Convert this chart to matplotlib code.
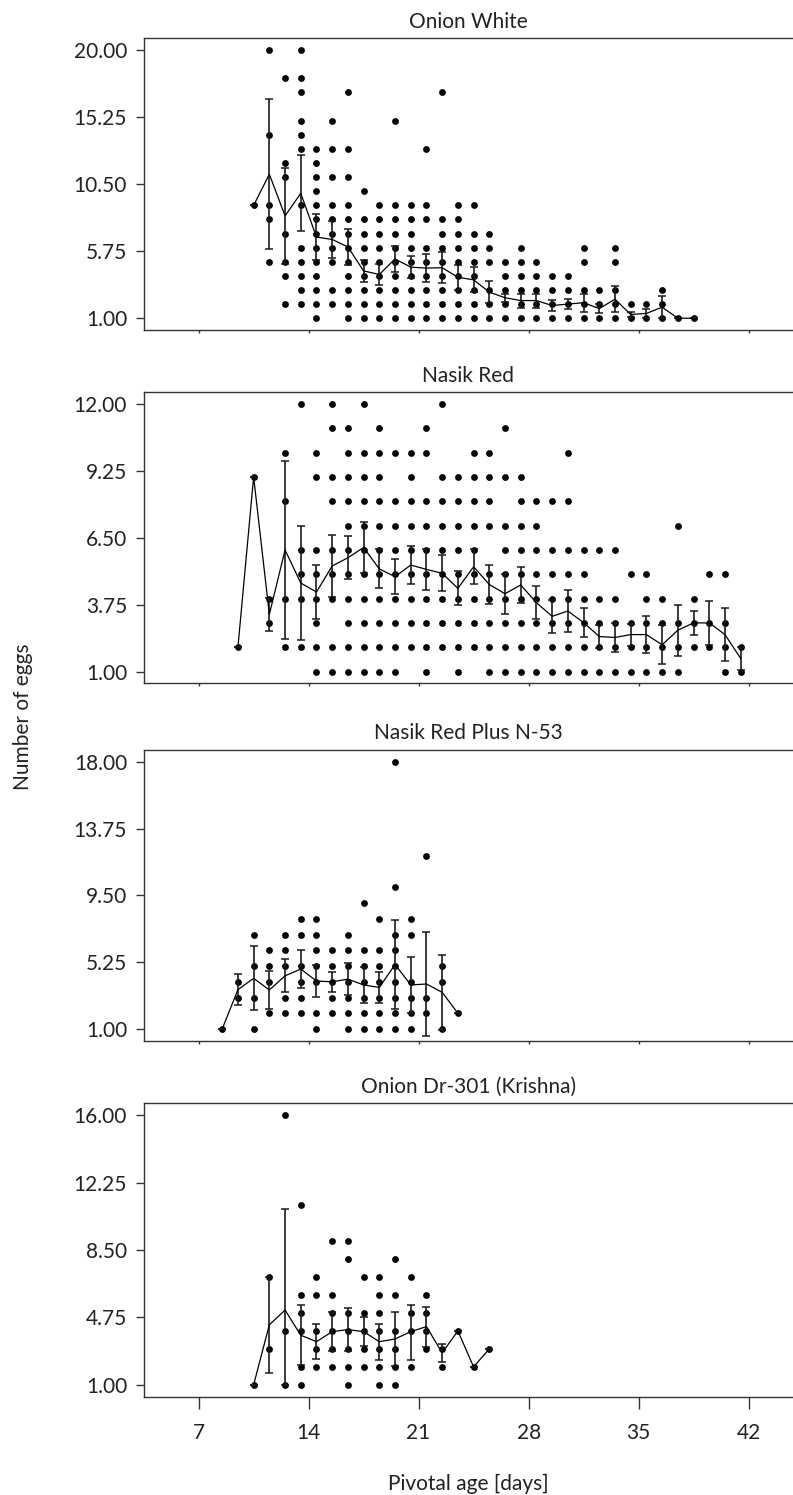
import matplotlib
matplotlib.use("Agg")
import matplotlib.pyplot as plt

plt.rcParams['font.family'] = ['Lato', 'DejaVu Sans']

# ---------------- data ----------------
titles = ["Onion White", "Nasik Red", "Nasik Red Plus N-53", "Onion Dr-301 (Krishna)"]
yticks = [[1.00, 5.75, 10.50, 15.25, 20.00],
          [1.00, 3.75, 6.50, 9.25, 12.00],
          [1.00, 5.25, 9.50, 13.75, 18.00],
          [1.00, 4.75, 8.50, 12.25, 16.00]]
xticks = [7, 14, 21, 28, 35, 42]

# individual observations: egg count -> pivotal ages (days) where it occurs
p1_rows = {
    20: [11.5, 13.5],
    18: [12.5, 13.5],
    17: [13.5, 16.5, 22.5],
    15: [13.5, 15.5, 19.5],
    14: [11.5, 13.5],
    13: [13.5, 14.5, 15.5, 16.5, 21.5],
    12: [12.5, 14.5],
    11: [12.5, 14.5, 15.5, 16.5],
    10: [14.5, 17.5],
    9: [10.5, 11.5, 13.5, 14.5, 15.5, 16.5, 18.5, 19.5, 20.5, 21.5, 23.5, 24.5],
    8: [11.5, 14.5, 15.5, 16.5, 17.5, 18.5, 19.5, 20.5, 21.5, 22.5, 23.5],
    7: [12.5, 14.5, 15.5, 16.5, 17.5, 18.5, 19.5, 20.5, 22.5, 23.5, 24.5, 25.5],
    6: [13.5, 14.5, 15.5, 16.5, 17.5, 18.5, 19.5, 20.5, 21.5, 22.5, 23.5, 24.5,
        25.5, 27.5, 31.5, 33.5],
    5: [11.5, 12.5, 13.5, 14.5, 15.5, 16.5, 17.5, 18.5, 19.5, 20.5, 21.5, 22.5,
        23.5, 24.5, 25.5, 26.5, 27.5, 28.5, 31.5, 33.5],
    4: [12.5, 13.5, 14.5, 16.5, 17.5, 18.5, 19.5, 20.5, 21.5, 22.5, 23.5, 24.5,
        26.5, 27.5, 28.5, 29.5, 30.5],
    3: [13.5, 14.5, 15.5, 16.5, 17.5, 18.5, 19.5, 20.5, 21.5, 22.5, 23.5, 24.5,
        25.5, 26.5, 27.5, 28.5, 29.5, 30.5, 31.5, 32.5, 33.5, 36.5],
    2: [12.5, 13.5, 14.5, 15.5, 16.5, 17.5, 18.5, 19.5, 20.5, 21.5, 22.5, 23.5,
        24.5, 25.5, 26.5, 27.5, 28.5, 29.5, 30.5, 31.5, 32.5, 33.5, 34.5, 35.5, 36.5],
    1: [14.5, 16.5, 17.5, 18.5, 19.5, 20.5, 21.5, 22.5, 23.5, 24.5, 25.5, 26.5,
        27.5, 28.5, 29.5, 30.5, 31.5, 32.5, 33.5, 34.5, 35.5, 36.5, 37.5, 38.5],
}
p2_rows = {
    12: [13.5, 15.5, 17.5, 22.5],
    11: [15.5, 16.5, 18.5, 21.5, 26.5],
    10: [12.5, 14.5, 16.5, 17.5, 18.5, 19.5, 20.5, 21.5, 24.5, 25.5, 30.5],
    9: [10.5, 14.5, 15.5, 16.5, 17.5, 18.5, 20.5, 22.5, 23.5, 24.5, 25.5, 26.5, 27.5],
    8: [12.5, 15.5, 16.5, 17.5, 18.5, 19.5, 20.5, 21.5, 22.5, 23.5, 24.5, 25.5,
        27.5, 28.5, 29.5, 30.5],
    7: [16.5, 17.5, 18.5, 19.5, 20.5, 21.5, 22.5, 23.5, 24.5, 25.5, 26.5, 27.5,
        28.5, 37.5],
    6: [13.5, 14.5, 15.5, 16.5, 17.5, 18.5, 19.5, 20.5, 21.5, 22.5, 23.5, 24.5,
        26.5, 27.5, 28.5, 29.5, 30.5, 31.5, 32.5, 33.5],
    5: [13.5, 14.5, 15.5, 16.5, 17.5, 18.5, 19.5, 20.5, 21.5, 22.5, 23.5, 24.5,
        25.5, 26.5, 27.5, 28.5, 29.5, 30.5, 31.5, 34.5, 35.5, 39.5, 40.5],
    4: [11.5, 12.5, 13.5, 14.5, 15.5, 16.5, 17.5, 18.5, 19.5, 20.5, 21.5, 22.5,
        23.5, 24.5, 25.5, 26.5, 27.5, 28.5, 29.5, 30.5, 31.5, 32.5, 33.5, 35.5,
        36.5, 38.5],
    3: [11.5, 14.5, 16.5, 17.5, 18.5, 19.5, 20.5, 21.5, 22.5, 23.5, 24.5, 25.5,
        26.5, 27.5, 28.5, 29.5, 30.5, 31.5, 32.5, 33.5, 34.5, 35.5, 36.5, 37.5,
        38.5, 39.5, 40.5],
    2: [9.5, 12.5, 13.5, 14.5, 15.5, 16.5, 17.5, 18.5, 19.5, 20.5, 21.5, 22.5,
        23.5, 24.5, 25.5, 26.5, 27.5, 28.5, 29.5, 30.5, 31.5, 32.5, 33.5, 34.5,
        35.5, 36.5, 37.5, 38.5, 39.5, 40.5, 41.5],
    1: [14.5, 15.5, 16.5, 17.5, 18.5, 19.5, 21.5, 23.5, 25.5, 26.5, 27.5, 28.5,
        29.5, 30.5, 31.5, 32.5, 33.5, 34.5, 35.5, 36.5, 37.5, 40.5, 41.5],
}
p3_rows = {
    18: [19.5],
    12: [21.5],
    10: [19.5],
    9: [17.5],
    8: [13.5, 14.5, 18.5, 20.5],
    7: [10.5, 12.5, 13.5, 14.5, 16.5, 19.5, 20.5],
    6: [11.5, 12.5, 14.5, 15.5, 16.5, 17.5, 18.5, 19.5],
    5: [10.5, 11.5, 12.5, 13.5, 14.5, 15.5, 16.5, 17.5, 18.5, 19.5, 22.5],
    4: [9.5, 11.5, 13.5, 14.5, 15.5, 16.5, 17.5, 18.5, 19.5, 20.5, 22.5],
    3: [9.5, 10.5, 12.5, 13.5, 15.5, 16.5, 17.5, 18.5, 19.5, 20.5, 21.5],
    2: [11.5, 12.5, 13.5, 14.5, 15.5, 16.5, 17.5, 18.5, 19.5, 20.5, 21.5, 23.5],
    1: [8.5, 10.5, 14.5, 16.5, 17.5, 18.5, 19.5, 20.5, 22.5],
}
p4_rows = {
    16: [12.5],
    11: [13.5],
    9: [15.5, 16.5],
    8: [16.5, 19.5],
    7: [11.5, 14.5, 17.5, 18.5, 20.5],
    6: [13.5, 14.5, 15.5, 18.5, 19.5, 21.5],
    5: [13.5, 15.5, 16.5, 17.5, 18.5, 20.5, 21.5],
    4: [12.5, 13.5, 14.5, 15.5, 16.5, 17.5, 18.5, 19.5, 20.5, 21.5, 23.5],
    3: [11.5, 14.5, 15.5, 16.5, 17.5, 18.5, 19.5, 21.5, 22.5, 25.5],
    2: [13.5, 14.5, 15.5, 16.5, 17.5, 18.5, 19.5, 20.5, 22.5, 24.5],
    1: [10.5, 12.5, 13.5, 16.5, 18.5, 19.5],
}

# means and error bars (lower / upper bounds)
p1_age = [10.5, 11.5, 12.5, 13.5, 14.5, 15.5, 16.5, 17.5, 18.5, 19.5, 20.5, 21.5,
          22.5, 23.5, 24.5, 25.5, 26.5, 27.5, 28.5, 29.5, 30.5, 31.5, 32.5, 33.5,
          34.5, 35.5, 36.5, 37.5, 38.5]
p1_mean = [9, 11.2, 8.25, 9.85, 6.75, 6.58, 6.05, 4.35, 4.1, 5.2, 4.62, 4.55,
           4.58, 3.9, 3.72, 2.85, 2.45, 2.25, 2.25, 1.9, 2.0, 2.1, 1.68, 2.35,
           1.26, 1.34, 1.78, 1, 1]
p1_err = [0, 5.3, 3.4, 2.7, 1.6, 1.28, 1.28, 0.8, 0.73, 0.93, 0.8, 1.0,
          1.1, 0.9, 0.88, 0.8, 0.3, 0.5, 0.5, 0.42, 0.35, 0.65, 0.33, 0.9,
          0.21, 0.34, 0.79, 0, 0]

p2_age = [9.5, 10.5, 11.5, 12.5, 13.5, 14.5, 15.5, 16.5, 17.5, 18.5, 19.5, 20.5,
          21.5, 22.5, 23.5, 24.5, 25.5, 26.5, 27.5, 28.5, 29.5, 30.5, 31.5, 32.5,
          33.5, 34.5, 35.5, 36.5, 37.5, 38.5, 39.5, 40.5, 41.5]
p2_mean = [2, 9, 3.35, 6.0, 4.64, 4.27, 5.34, 5.68, 6.1, 5.22, 4.9, 5.38,
           5.2, 5.04, 4.42, 5.31, 4.58, 4.2, 4.56, 3.83, 3.27, 3.49, 3.01, 2.44,
           2.4, 2.52, 2.52, 2.1, 2.7, 3.0, 3.0, 2.52, 1.54]
p2_err = [0, 0, 0.67, 3.65, 2.35, 1.1, 1.27, 0.88, 1.05, 0.8, 0.72, 0.78,
          0.85, 0.74, 0.7, 0.72, 0.8, 0.82, 0.73, 0.67, 0.69, 0.87, 0.6, 0.48,
          0.6, 0.45, 0.77, 0.8, 1.05, 0.5, 0.9, 1.1, 0.46]

p3_age = [8.5, 9.5, 10.5, 11.5, 12.5, 13.5, 14.5, 15.5, 16.5, 17.5, 18.5, 19.5,
          20.5, 21.5, 22.5, 23.5]
p3_mean = [1, 3.5, 4.22, 3.48, 4.38, 4.81, 4.05, 4.0, 4.17, 3.8, 3.64, 5.1,
           3.8, 3.86, 3.33, 2]
p3_err = [0, 0.98, 2.04, 1.2, 1.04, 1.2, 1.03, 0.65, 1.02, 1.14, 1.0, 2.8,
          1.77, 3.28, 2.38, 0]

p4_age = [10.5, 11.5, 12.5, 13.5, 14.5, 15.5, 16.5, 17.5, 18.5, 19.5, 20.5, 21.5,
          22.5, 23.5, 24.5, 25.5]
p4_mean = [1, 4.34, 5.16, 3.76, 3.4, 3.96, 4.07, 3.96, 3.4, 3.55, 3.96, 4.24,
           2.78, 4, 2, 3]
p4_lo = [1, 1.67, 1.0, 2.08, 2.44, 2.89, 2.9, 3.17, 2.39, 2.07, 2.4, 3.13,
         2.25, 4, 2, 3]
p4_hi = [1, 7.0, 10.77, 5.44, 4.36, 5.03, 5.25, 4.75, 4.41, 5.03, 5.44, 5.35,
         3.25, 4, 2, 3]

# ---------------- layout ----------------
W, H = 793, 1495
fig = plt.figure(figsize=(W / 100, H / 100), dpi=100)
LEFT, RIGHT = 143.5, 793
tops = [38.3, 392.3, 750.0, 1103.3]
bottoms = [330.0, 683.3, 1040.7, 1396.7]
XLIM = (3.49, 44.83)
SPINE = '#333333'
TXT = '#222222'


def rect(l, t, r, b):
    return [l / W, 1 - b / H, (r - l) / W, (b - t) / H]


rows_list = [p1_rows, p2_rows, p3_rows, p4_rows]
means = [
    (p1_age, p1_mean, [m - e for m, e in zip(p1_mean, p1_err)], [m + e for m, e in zip(p1_mean, p1_err)]),
    (p2_age, p2_mean, [m - e for m, e in zip(p2_mean, p2_err)], [m + e for m, e in zip(p2_mean, p2_err)]),
    (p3_age, p3_mean, [m - e for m, e in zip(p3_mean, p3_err)], [m + e for m, e in zip(p3_mean, p3_err)]),
    (p4_age, p4_mean, p4_lo, p4_hi),
]

for i in range(4):
    ax = fig.add_axes(rect(LEFT, tops[i], RIGHT, bottoms[i]))
    rows = rows_list[i]
    xs, ys = [], []
    for cnt, ages in rows.items():
        for a in ages:
            xs.append(a)
            ys.append(cnt)
    ax.scatter(xs, ys, s=24, color='black', linewidths=0, zorder=2)

    age, mean, lo, hi = means[i]
    yerr = [[m - l for m, l in zip(mean, lo)], [h - m for m, h in zip(mean, hi)]]
    ax.errorbar(age, mean, yerr=yerr, fmt='-', color='black', lw=0.9,
                ecolor='#1a1a1a', elinewidth=1.2, capsize=3.0, capthick=1.1,
                zorder=3)

    yt = yticks[i]
    r = yt[-1] - yt[0]
    ax.set_ylim(yt[0] - 0.044 * r, yt[-1] + 0.044 * r)
    ax.set_yticks(yt)
    ax.set_yticklabels([f"{v:.2f}" for v in yt])
    ax.set_xlim(*XLIM)
    ax.set_xticks(xticks)

    for side in ['left', 'top', 'bottom']:
        ax.spines[side].set_color(SPINE)
        ax.spines[side].set_linewidth(1.0)
    ax.spines['right'].set_visible(False)

    ax.tick_params(axis='y', direction='out', length=5.8, width=1.0,
                   color=SPINE, labelsize=15, labelcolor=TXT, pad=6)
    if i == 3:
        ax.tick_params(axis='x', direction='out', length=8.6, width=1.0,
                       color=SPINE, labelsize=15, labelcolor=TXT, pad=10)
        ax.set_xticklabels([str(v) for v in xticks])
    else:
        ax.tick_params(axis='x', direction='out', length=2.0, width=1.0,
                       color=SPINE, labelbottom=False)

    ax.set_title(titles[i], fontsize=15, color=TXT, pad=7.6)

fig.text(23 / W, 1 - 717 / H, "Number of eggs", rotation=90, fontsize=15,
         color=TXT, ha='center', va='center')
fig.text((LEFT + RIGHT) / 2 / W, 5 / H, "Pivotal age [days]", fontsize=15,
         color=TXT, ha='center', va='baseline')

fig.savefig("out.png", dpi=100)
